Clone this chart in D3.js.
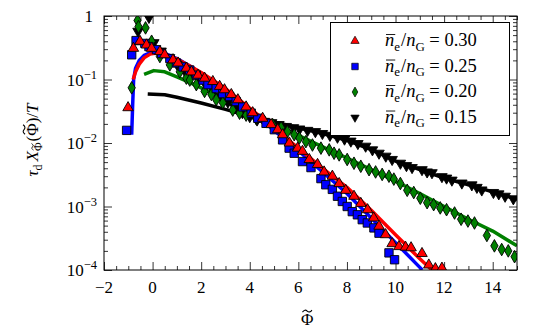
<!DOCTYPE html>
<html>
<head>
<meta charset="utf-8">
<script src="https://cdn.jsdelivr.net/npm/d3@7"></script>
<style>
  body { margin: 0; background: #fff; }
</style>
</head>
<body>
<div id="chart"></div>
<script>
// ---- data ----
// n_e/n_G = 0.30 (red up-triangles)
var redPhi = [-1.01,-0.79,-0.52,-0.25,-0.04,0.30,0.50,0.84,1.05,1.39,1.60,1.87,2.14,2.48,2.76,2.96,3.24,3.51,3.85,4.12,4.53,4.88,5.15,5.35,5.63,5.97,6.17,6.45,6.79,7.06,7.40,7.68,7.95,8.29,8.57,8.85,9.10,9.32,9.59,9.86,10.14,10.41,10.64,11.09,11.37,11.64,11.91];
var redVal = [0.036,0.31,0.40,0.35,0.31,0.275,0.245,0.204,0.182,0.151,0.132,0.117,0.105,0.093,0.078,0.069,0.058,0.048,0.037,0.030,0.0245,0.0195,0.0162,0.0135,0.0100,0.0083,0.0074,0.0055,0.0046,0.0035,0.0030,0.0023,0.0018,0.00145,0.00112,0.00089,0.00066,0.00049,0.00036,0.00026,0.000234,0.000229,0.000224,0.000182,0.00012,0.000105,0.000107];
// n_e/n_G = 0.25 (blue squares)
var bluePhi = [-1.07,-0.86,-0.68,-0.32,-0.15,0.16,0.37,0.71,0.98,1.25,1.53,1.80,2.07,2.28,2.62,2.89,3.17,3.44,3.71,4.06,4.33,4.67,5.01,5.35,5.62,5.83,6.17,6.52,6.93,7.13,7.40,7.61,7.81,8.01,8.22,8.43,8.63,8.84,9.11,9.32,9.73,9.96];
var blueVal = [0.0158,0.245,0.41,0.37,0.33,0.295,0.257,0.214,0.182,0.158,0.141,0.117,0.098,0.083,0.072,0.060,0.054,0.045,0.037,0.0295,0.0245,0.0204,0.0162,0.0112,0.0083,0.0069,0.0051,0.0041,0.00275,0.0022,0.00186,0.00145,0.0012,0.001,0.00083,0.00074,0.00062,0.00055,0.00046,0.00038,0.000186,0.000145];
// n_e/n_G = 0.20 (green diamonds)
var greenPhi = [-0.86,-0.62,-0.58,-0.29,-0.04,0.30,0.71,1.12,1.39,1.53,1.80,2.14,2.42,2.62,2.89,3.30,3.58,3.85,4.26,4.60,4.94,5.29,5.55,5.83,6.04,6.31,6.58,6.93,7.27,7.47,7.68,8.01,8.29,8.57,8.91,9.18,9.45,9.73,9.93,10.20,10.48,10.75,11.02,11.30,11.57,11.84,12.10,12.43,12.70,12.98,13.25,13.76,14.07,14.37,14.64,14.90];
var greenVal = [0.074,0.85,0.68,0.65,0.40,0.23,0.17,0.132,0.105,0.098,0.083,0.065,0.058,0.048,0.043,0.033,0.0295,0.0275,0.0245,0.0219,0.0195,0.0174,0.0151,0.0135,0.012,0.0105,0.0093,0.0083,0.0078,0.0069,0.0065,0.0055,0.0048,0.0043,0.0038,0.0035,0.0032,0.0030,0.0027,0.0023,0.0018,0.00166,0.00135,0.00115,0.00107,0.00095,0.00089,0.00079,0.00063,0.00059,0.00055,0.00035,0.00024,0.00021,0.0002,0.000162];
// n_e/n_G = 0.15 (black down-triangles)
var blackPhi = [-0.60,-0.15,0.05,0.35,0.70,1.00,1.30,1.60,1.90,2.20,2.50,2.80,3.10,3.40,3.70,4.00,4.30,4.60,4.90,5.20,5.50,5.80,6.05,6.38,6.70,6.99,7.30,7.61,7.90,8.16,8.45,8.77,9.05,9.32,9.60,9.86,10.20,10.45,10.68,11.09,11.30,11.50,11.91,12.10,12.32,12.73,13.14,13.35,13.55,14.03,14.25,14.51,14.85];
var blackVal = [0.575,0.95,0.38,0.28,0.22,0.174,0.141,0.12,0.1,0.081,0.068,0.054,0.044,0.036,0.030,0.026,0.023,0.0219,0.0209,0.0195,0.0182,0.0174,0.0166,0.0158,0.0151,0.0141,0.0132,0.0123,0.0115,0.0107,0.0098,0.0089,0.0078,0.0069,0.0062,0.0055,0.0048,0.0044,0.0041,0.0038,0.0035,0.0034,0.00295,0.0028,0.0026,0.00234,0.00219,0.002,0.00182,0.00166,0.00158,0.00145,0.00132];

// fitted curves
var redFitPhi = [-0.8,-0.7,-0.55,-0.35,-0.1,0.2,0.5,1,1.5,2,3,4,5,6,7,8,9,10,11,11.5];
var redFitVal = [0.1,0.132,0.174,0.219,0.251,0.263,0.251,0.209,0.166,0.129,0.072,0.0355,0.017,0.0083,0.004,0.002,0.00087,0.00036,0.00015,0.0001];
var blueFitPhi = [-0.86,-0.82,-0.78,-0.7,-0.55,-0.35,-0.1,0.2,0.5,1,1.5,2,3,4,5,6,7,8,9,10,11,11.1];
var blueFitVal = [0.0135,0.04,0.1,0.151,0.2,0.24,0.263,0.269,0.257,0.214,0.166,0.126,0.069,0.033,0.0158,0.0076,0.0035,0.0016,0.00066,0.00027,0.00011,0.0001];
var greenFitPhi = [-0.35,0.05,0.5,1,1.5,2,2.5,3,3.5,4,4.5,5,6,7,8,9,10,11,12,13,14,15];
var greenFitVal = [0.12,0.138,0.132,0.11,0.091,0.074,0.06,0.047,0.036,0.0295,0.024,0.0195,0.0132,0.0087,0.0058,0.0038,0.0025,0.0016,0.001,0.00063,0.00041,0.00024];
var blackFitPhi = [-0.2,0.5,1,2,3,4,5,6,7,8,9,10,11,12,13,14,15];
var blackFitVal = [0.059,0.0575,0.0525,0.0427,0.0339,0.0263,0.0214,0.0174,0.0141,0.011,0.0079,0.0052,0.0038,0.0028,0.0022,0.0017,0.00129];

var legendLabels = ["0.30", "0.25", "0.20", "0.15"];
var xTicks = [-2, 0, 2, 4, 6, 8, 10, 12, 14];
var yTicks = [1, 1e-1, 1e-2, 1e-3, 1e-4];
var yTickExp = ["", "\u22121", "\u22122", "\u22123", "\u22124"];

// ---- layout ----
var W = 544, H = 336;
var pL = 104, pR = 517, pT = 16, pB = 270;
var FONT = "Liberation Serif, DejaVu Serif, serif";

var svg = d3.select("#chart").append("svg")
  .attr("width", W).attr("height", H)
  .attr("font-family", FONT);

var x = d3.scaleLinear().domain([-2, 15]).range([pL, pR]);
var y = d3.scaleLog().domain([1e-4, 1]).range([pB, pT]);

svg.append("defs").append("clipPath").attr("id", "clip")
  .append("rect").attr("x", pL).attr("y", pT)
  .attr("width", pR - pL).attr("height", pB - pT);

// minor tick values
var xMinor = d3.range(-2, 15.01, 0.5).filter(function(v) { return v % 2 !== 0; });
var yMinor = [];
[1e-4, 1e-3, 1e-2, 1e-1].forEach(function(d) {
  for (var k = 2; k <= 9; k++) yMinor.push(d * k);
});

function tickAxis(axis, tr, vals, size) {
  svg.append("g").attr("transform", tr)
    .call(axis.tickValues(vals).tickSize(-size).tickFormat(""))
    .call(function(g) { g.select(".domain").remove(); g.selectAll("line").attr("stroke-width", 0.8); });
}
tickAxis(d3.axisBottom(x), "translate(0," + pB + ")", xTicks, 8);
tickAxis(d3.axisBottom(x), "translate(0," + pB + ")", xMinor, 4);
tickAxis(d3.axisTop(x), "translate(0," + pT + ")", xTicks, 8);
tickAxis(d3.axisTop(x), "translate(0," + pT + ")", xMinor, 4);
tickAxis(d3.axisLeft(y), "translate(" + pL + ",0)", yTicks, 8);
tickAxis(d3.axisLeft(y), "translate(" + pL + ",0)", yMinor, 4);
tickAxis(d3.axisRight(y), "translate(" + pR + ",0)", yTicks, 8);
tickAxis(d3.axisRight(y), "translate(" + pR + ",0)", yMinor, 4);

var plot = svg.append("g").attr("clip-path", "url(#clip)");

// x tick labels
svg.append("g").selectAll("text").data(xTicks).enter().append("text")
  .attr("x", function(d) { return x(d); })
  .attr("y", 293)
  .attr("text-anchor", "middle")
  .attr("font-size", 17)
  .text(function(d) { return d < 0 ? "\u2212" + Math.abs(d) : d; });

// y tick labels
yTicks.forEach(function(v, i) {
  var t = svg.append("text")
    .attr("x", 97).attr("y", y(v) + 6)
    .attr("text-anchor", "end")
    .attr("font-size", 17);
  if (i === 0) { t.attr("x", 93).text("1"); return; }
  t.append("tspan").text("10");
  t.append("tspan").attr("dy", -7).attr("font-size", 12.5).text(yTickExp[i]);
});

// fits
var line = d3.line()
  .x(function(d) { return x(d[0]); })
  .y(function(d) { return y(d[1]); });

function fit(ph, vals, color) {
  plot.append("path")
    .datum(d3.zip(ph, vals))
    .attr("d", line)
    .attr("fill", "none")
    .attr("stroke", color)
    .attr("stroke-width", 3.5)
    .attr("stroke-linejoin", "round");
}
fit(blackFitPhi, blackFitVal, "#000");
fit(greenFitPhi, greenFitVal, "#008000");
fit(blueFitPhi, blueFitVal, "#0000ff");
fit(redFitPhi, redFitVal, "#ff0000");

// markers
var triUp = d3.symbol().type(d3.symbolTriangle).size(48);
var square = d3.symbol().type(d3.symbolSquare).size(70);
var diamond = d3.symbol().type(d3.symbolDiamond).size(46);

function markers(g, ph, vals, sym, color, rot) {
  g.selectAll(null).data(d3.zip(ph, vals)).enter().append("path")
    .attr("d", sym)
    .attr("transform", function(d) {
      return "translate(" + x(d[0]) + "," + y(d[1]) + ")" + (rot ? " rotate(180)" : "");
    })
    .attr("fill", color)
    .attr("stroke", "#000")
    .attr("stroke-width", 0.9);
}
markers(plot, blackPhi, blackVal, triUp, "#000", true);
markers(plot, greenPhi, greenVal, diamond, "#008000", false);
markers(plot, bluePhi, blueVal, square, "#0000ff", false);
markers(plot, redPhi, redVal, triUp, "#ff0000", false);

// frame
svg.append("rect")
  .attr("x", pL).attr("y", pT)
  .attr("width", pR - pL).attr("height", pB - pT)
  .attr("fill", "none").attr("stroke", "#000").attr("stroke-width", 1);

// math-ish text: pieces laid out one after another, measured as we go
// piece: {t, it (italic), sub, tilde, bar}
function mathText(g, pieces, size) {
  var cx = 0;
  pieces.forEach(function(p) {
    var fs = p.sub ? size * 0.7 : size;
    var dy = p.sub ? size * 0.25 : 0;
    var t = g.append("text").attr("x", cx).attr("y", dy)
      .attr("font-size", fs)
      .attr("font-style", p.it ? "italic" : "normal")
      .text(p.t);
    var w = t.node().getComputedTextLength();
    if (p.tilde) {
      var ty = dy - fs * 0.82, a = cx + w * 0.12, tw = w * 0.76;
      g.append("path")
        .attr("d", "M" + a + "," + (ty + 1) + " Q" + (a + tw / 4) + "," + (ty - 2.2) + " " + (a + tw / 2) + "," + ty +
                   " T" + (a + tw) + "," + (ty - 1))
        .attr("fill", "none").attr("stroke", "#000").attr("stroke-width", fs > 14 ? 1.1 : 0.8);
    }
    if (p.bar) {
      g.append("line").attr("x1", cx + 1).attr("x2", cx + w + 1)
        .attr("y1", dy - fs * 0.62).attr("y2", dy - fs * 0.62)
        .attr("stroke", "#000").attr("stroke-width", 0.9);
    }
    cx += w + (p.gap || 0);
  });
  return cx;
}

// legend
var lg = svg.append("g");
lg.append("rect").attr("x", 330.5).attr("y", 22.5).attr("width", 179).attr("height", 113)
  .attr("fill", "#fff").attr("stroke", "#000").attr("stroke-width", 1);
var legSyms = [[d3.symbol().type(d3.symbolTriangle).size(30), "#ff0000", false],
               [d3.symbol().type(d3.symbolSquare).size(42), "#0000ff", false],
               [d3.symbol().type(d3.symbolDiamond).size(28), "#008000", false],
               [d3.symbol().type(d3.symbolTriangle).size(30), "#000", true]];
legendLabels.forEach(function(lab, i) {
  var cy = 41 + i * 25.5;
  lg.append("path").attr("d", legSyms[i][0])
    .attr("transform", "translate(355," + cy + ")" + (legSyms[i][2] ? " rotate(180)" : ""))
    .attr("fill", legSyms[i][1]).attr("stroke", "#000").attr("stroke-width", 0.7);
  var g = lg.append("g").attr("transform", "translate(385," + (cy + 5) + ")");
  mathText(g, [
    {t: "n", it: true, bar: true},
    {t: "e", sub: true, gap: 1},
    {t: "/"},
    {t: "n", it: true},
    {t: "G", sub: true},
    {t: "\u00a0=\u00a0" + lab}
  ], 18.5);
});

// x title
var xg = svg.append("g").attr("transform", "translate(301,325)");
mathText(xg, [{t: "\u03A6", tilde: true}], 17);

// y title (rotated)
var yg = svg.append("g");
var yw = mathText(yg, [
  {t: "\u03C4", it: true},
  {t: "d", sub: true, gap: 3},
  {t: "X", it: true},
  {t: "\u03A6", sub: true, tilde: true, gap: 1},
  {t: "("},
  {t: "\u03A6", tilde: true},
  {t: ")/"},
  {t: "T", it: true}
], 17);
yg.attr("transform", "translate(38," + (140 + yw / 2) + ") rotate(-90)");
</script>
</body>
</html>
